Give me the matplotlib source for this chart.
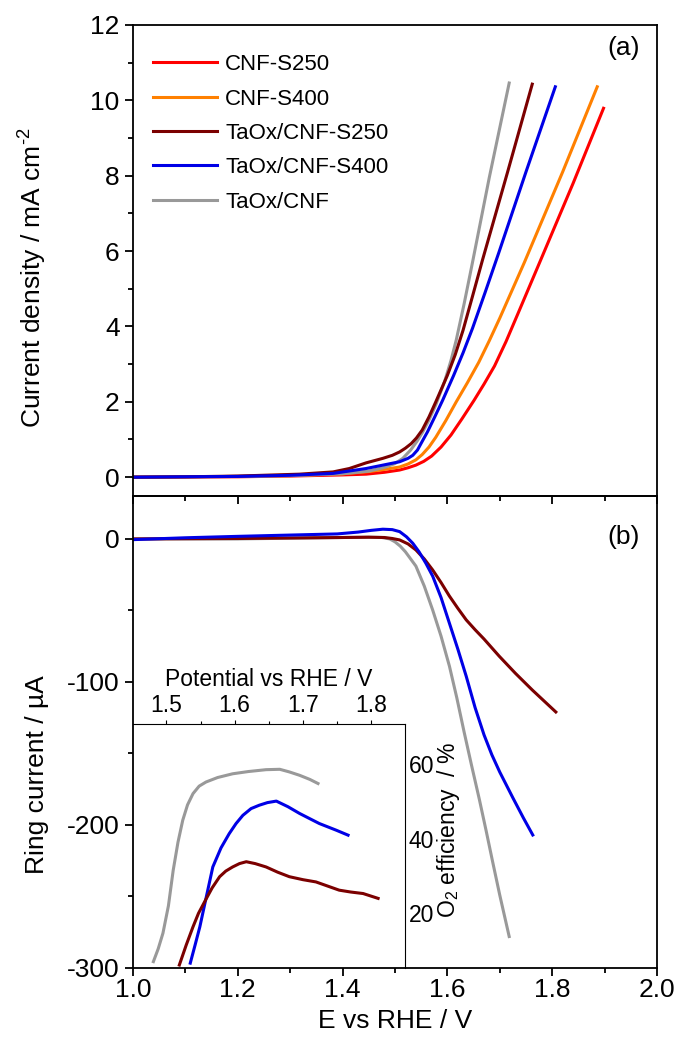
import numpy as np
import matplotlib.pyplot as plt
from matplotlib.ticker import MultipleLocator

plt.rcParams['font.family'] = ['Liberation Sans', 'DejaVu Sans']
plt.rcParams['mathtext.fontset'] = 'custom'
plt.rcParams['mathtext.rm'] = 'Liberation Sans'
plt.rcParams['mathtext.it'] = 'Liberation Sans:italic'
plt.rcParams['axes.unicode_minus'] = False

# ---- (a) current density, mA cm-2 ----
red_x = [1.0, 1.1, 1.2, 1.3, 1.4, 1.445, 1.48, 1.509, 1.525, 1.54, 1.555, 1.57, 1.588, 1.607,
         1.628, 1.651, 1.67, 1.69, 1.712, 1.735, 1.778, 1.84, 1.898]
red_y = [0, 0.005, 0.01, 0.03, 0.06, 0.08, 0.13, 0.19, 0.25, 0.32, 0.42, 0.56, 0.8, 1.12,
         1.55, 2.04, 2.47, 2.95, 3.6, 4.35, 5.76, 7.8, 9.79]

orange_x = [1.0, 1.1, 1.2, 1.3, 1.4, 1.45, 1.477, 1.509, 1.525, 1.54, 1.552, 1.565, 1.578, 1.597,
            1.617, 1.638, 1.66, 1.68, 1.70, 1.747, 1.82, 1.886]
orange_y = [0, 0.01, 0.02, 0.04, 0.09, 0.15, 0.2, 0.27, 0.35, 0.46, 0.6, 0.8, 1.06, 1.5,
            2.0, 2.5, 3.05, 3.62, 4.22, 5.7, 8.1, 10.36]

maroon_x = [1.0, 1.1, 1.2, 1.318, 1.382, 1.413, 1.445, 1.477, 1.495, 1.509, 1.52, 1.531, 1.541,
            1.552, 1.565, 1.578, 1.600, 1.615, 1.630, 1.648, 1.667, 1.715, 1.762]
maroon_y = [0, 0.01, 0.03, 0.08, 0.14, 0.23, 0.38, 0.5, 0.58, 0.67, 0.77, 0.89, 1.04,
            1.25, 1.6, 2.0, 2.7, 3.25, 3.9, 4.8, 5.76, 8.1, 10.43]

blue_x = [1.0, 1.1, 1.2, 1.3, 1.382, 1.445, 1.477, 1.509, 1.525, 1.534, 1.543, 1.552, 1.562,
          1.576, 1.591, 1.612, 1.63, 1.648, 1.672, 1.698, 1.75, 1.806]
blue_y = [0, 0.01, 0.02, 0.05, 0.1, 0.23, 0.32, 0.41, 0.5, 0.58, 0.72, 0.95, 1.2,
          1.6, 2.04, 2.7, 3.3, 3.95, 4.9, 5.95, 8.1, 10.36]

gray_x = [1.0, 1.1, 1.2, 1.3, 1.4, 1.45, 1.48, 1.50, 1.515, 1.53, 1.542, 1.553, 1.565, 1.578,
          1.595, 1.607, 1.617, 1.632, 1.648, 1.68, 1.718]
gray_y = [0, 0.01, 0.02, 0.04, 0.09, 0.16, 0.26, 0.36, 0.5, 0.72, 0.95, 1.2, 1.52, 1.92,
          2.55, 3.1, 3.64, 4.6, 5.7, 7.95, 10.46]

# ---- (b) ring current, uA ----
ring_maroon_x = [1.0, 1.2, 1.4, 1.45, 1.48, 1.495, 1.509, 1.525, 1.540, 1.556, 1.572, 1.588, 1.604,
                 1.62, 1.636, 1.653, 1.670, 1.699, 1.730, 1.762, 1.807]
ring_maroon_y = [0, 0.3, 1, 1.2, 1.0, 0.3, -0.7, -3.5, -7.7, -14, -21.7, -30.5, -40,
                 -48.5, -56.6, -63.5, -70, -82, -94, -105.6, -121]

ring_blue_x = [1.0, 1.1, 1.2, 1.3, 1.39, 1.43, 1.455, 1.477, 1.495, 1.509, 1.522, 1.534, 1.546,
               1.559, 1.572, 1.588, 1.604, 1.62, 1.636, 1.653, 1.670, 1.685, 1.70, 1.725, 1.745, 1.763]
ring_blue_y = [-0.5, 0.8, 1.8, 2.7, 3.5, 4.8, 6.0, 6.8, 6.5, 5.1, 1.5, -3, -9,
               -17, -26, -41, -59, -77, -96, -118, -137, -151, -163, -181, -195, -207]

ring_gray_x = [1.0, 1.2, 1.4, 1.45, 1.475, 1.49, 1.50, 1.51, 1.52, 1.53, 1.54, 1.556, 1.572,
               1.588, 1.604, 1.618, 1.632, 1.646, 1.661, 1.674, 1.686, 1.70, 1.718]
ring_gray_y = [0, 0, 1.0, 1.2, 1.0, 0, -2, -5, -9, -14, -19, -33, -49.7,
               -68, -89, -111, -135, -158, -182, -204, -225, -249, -278]

# ---- inset: O2 efficiency, % ----
eff_gray_x = [1.481, 1.488, 1.495, 1.503, 1.510, 1.517, 1.524, 1.531, 1.539, 1.548, 1.558, 1.575,
              1.597, 1.62, 1.646, 1.666, 1.68, 1.695, 1.71, 1.722]
eff_gray_y = [7.1, 10.5, 14.7, 22.0, 31.5, 39.0, 44.9, 49.0, 52.0, 54.0, 55.1, 56.3,
              57.3, 57.9, 58.4, 58.5, 57.8, 56.9, 55.8, 54.7]

eff_blue_x = [1.535, 1.542, 1.549, 1.558, 1.568, 1.58, 1.592, 1.602, 1.612, 1.624, 1.636, 1.648,
              1.661, 1.678, 1.695, 1.71, 1.724, 1.749, 1.766]
eff_blue_y = [6.7, 11.5, 16.4, 24.0, 32.4, 37.5, 41.3, 44.0, 46.2, 48.0, 48.9, 49.6,
              50.0, 48.5, 46.7, 45.3, 44.0, 42.2, 40.9]

eff_maroon_x = [1.519, 1.529, 1.539, 1.547, 1.556, 1.567, 1.578, 1.587, 1.597, 1.607, 1.617, 1.63,
                1.646, 1.663, 1.680, 1.70, 1.719, 1.736, 1.753, 1.77, 1.788, 1.810]
eff_maroon_y = [6.2, 11.5, 16.4, 20.0, 23.1, 26.8, 29.8, 31.3, 32.4, 33.3, 33.8, 33.3,
                32.4, 31.0, 29.8, 29.0, 28.4, 27.3, 26.2, 25.7, 25.3, 24.0]

c_red = '#ff0000'
c_orange = '#ff8000'
c_maroon = '#7b0000'
c_blue = '#0000e6'
c_gray = '#999999'
lw = 2.2

fig = plt.figure(figsize=(6.78, 10.5), dpi=100)
ax_a = fig.add_axes([0.196, 0.5276, 0.773, 0.4486])
ax_b = fig.add_axes([0.196, 0.0781, 0.773, 0.4495])
ins = fig.add_axes([0.196, 0.0781, 0.401, 0.232])
ax_b.patch.set_visible(False)
ins.patch.set_visible(False)

ax_a.plot(red_x, red_y, color=c_red, lw=lw, label='CNF-S250')
ax_a.plot(orange_x, orange_y, color=c_orange, lw=lw, label='CNF-S400')
ax_a.plot(gray_x, gray_y, color=c_gray, lw=lw, label='TaOx/CNF')
ax_a.plot(maroon_x, maroon_y, color=c_maroon, lw=lw, label='TaOx/CNF-S250')
ax_a.plot(blue_x, blue_y, color=c_blue, lw=lw, label='TaOx/CNF-S400')

handles, labels = ax_a.get_legend_handles_labels()
order = [0, 1, 3, 4, 2]
ax_a.legend([handles[i] for i in order], [labels[i] for i in order],
            loc='upper left', bbox_to_anchor=(0.038, 0.938), frameon=False,
            fontsize=16, handlelength=2.9, handletextpad=0.35,
            labelspacing=0.6, borderpad=0, borderaxespad=0)

ax_b.plot(ring_gray_x, ring_gray_y, color=c_gray, lw=lw)
ax_b.plot(ring_maroon_x, ring_maroon_y, color=c_maroon, lw=lw)
ax_b.plot(ring_blue_x, ring_blue_y, color=c_blue, lw=lw)

ins.plot(eff_gray_x, eff_gray_y, color=c_gray, lw=lw)
ins.plot(eff_blue_x, eff_blue_y, color=c_blue, lw=lw)
ins.plot(eff_maroon_x, eff_maroon_y, color=c_maroon, lw=lw)

for ax in (ax_a, ax_b):
    ax.set_xlim(1.0, 2.0)
    ax.xaxis.set_major_locator(MultipleLocator(0.2))
    ax.xaxis.set_minor_locator(MultipleLocator(0.1))
    ax.tick_params(which='major', direction='out', length=6, width=1.3, labelsize=19)
    ax.tick_params(which='minor', direction='out', length=3.5, width=1.3)
    ax.tick_params(axis='x', which='major', pad=1.5)
    for s in ax.spines.values():
        s.set_linewidth(1.3)

ax_a.set_ylim(-0.5, 12)
ax_a.yaxis.set_major_locator(MultipleLocator(2))
ax_a.yaxis.set_minor_locator(MultipleLocator(1))
ax_a.tick_params(labelbottom=False)
ax_a.set_ylabel('Current density / mA cm$^{\\text{-}2}$', fontsize=19)
ax_a.yaxis.set_label_coords(-0.16, 0.463)
ax_a.text(0.968, 0.951, '(a)', transform=ax_a.transAxes, ha='right', va='center', fontsize=19)

ax_b.set_ylim(-300, 30)
ax_b.yaxis.set_major_locator(MultipleLocator(100))
ax_b.yaxis.set_minor_locator(MultipleLocator(50))
ax_b.set_ylabel('Ring current / µA', fontsize=19)
ax_b.yaxis.set_label_coords(-0.16, 0.41)
ax_b.set_xlabel('E vs RHE / V', fontsize=19, labelpad=5)
ax_b.text(0.968, 0.913, '(b)', transform=ax_b.transAxes, ha='right', va='center', fontsize=19)

ins.set_xlim(1.451, 1.849)
ins.set_ylim(5.4, 70.5)
ins.xaxis.tick_top()
ins.xaxis.set_label_position('top')
ins.yaxis.tick_right()
ins.yaxis.set_label_position('right')
ins.set_xticks([1.5, 1.6, 1.7, 1.8])
ins.xaxis.set_minor_locator(MultipleLocator(0.05))
ins.set_yticks([20, 40, 60])
ins.tick_params(axis='x', which='major', direction='out', length=3, width=0.8, labelsize=16.5, pad=2)
ins.tick_params(axis='x', which='minor', direction='out', length=2, width=0.8)
ins.tick_params(axis='y', which='major', length=0, labelsize=16.5, pad=3)
ins.spines['left'].set_visible(False)
ins.spines['bottom'].set_visible(False)
ins.spines['top'].set_linewidth(0.8)
ins.spines['right'].set_linewidth(0.8)
ins.set_xlabel('Potential vs RHE / V', fontsize=16.5, labelpad=6)
ins.set_ylabel('O$_2$ efficiency  / %', fontsize=16.5)
ins.yaxis.set_label_coords(1.112, 0.566)

fig.savefig('out.png', dpi=100)
